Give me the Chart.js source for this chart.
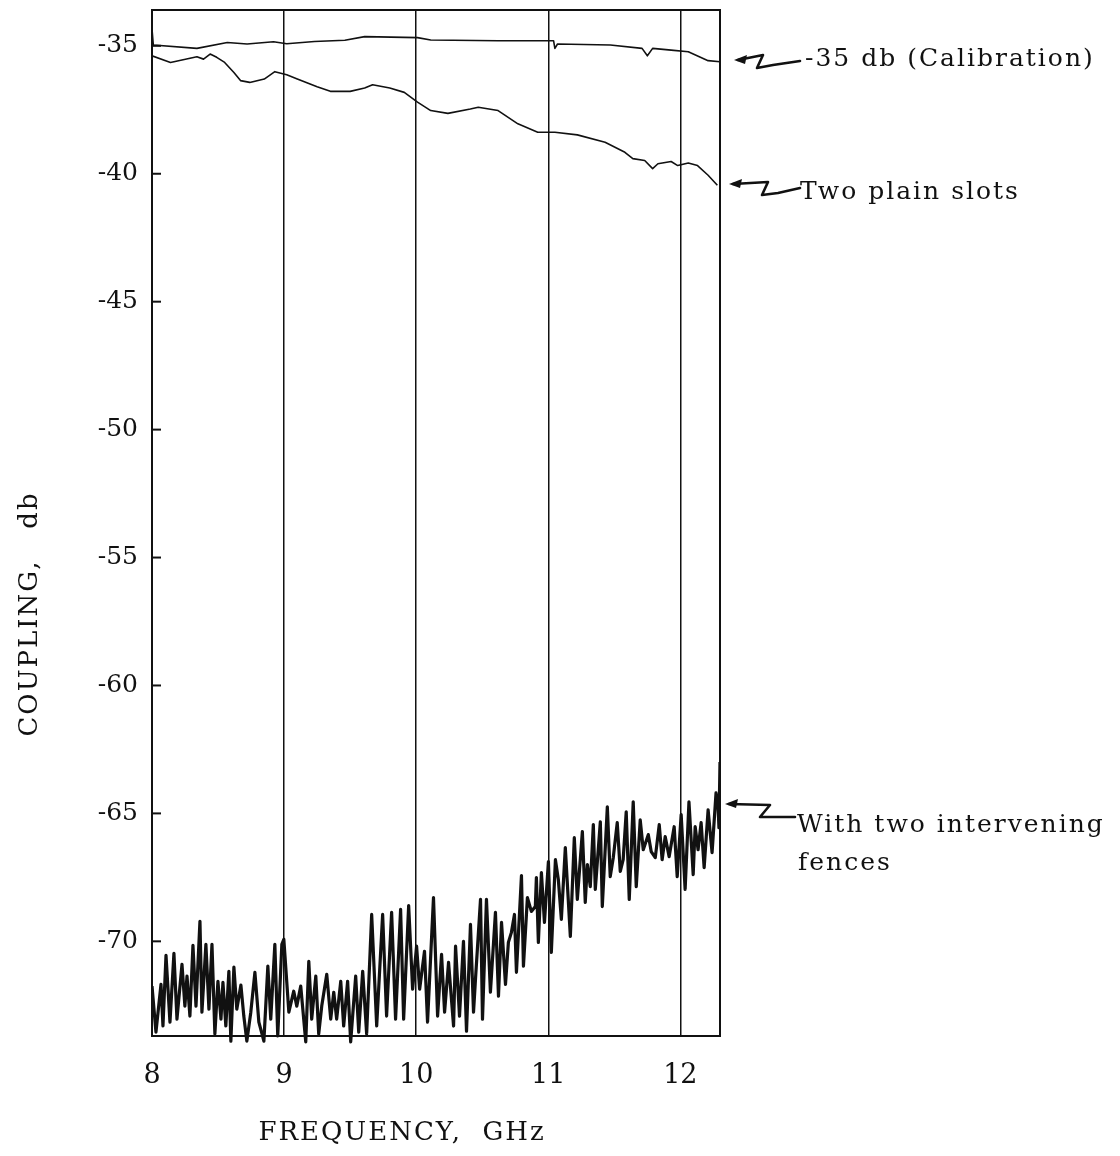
<!DOCTYPE html>
<html>
<head>
<meta charset="utf-8">
<script src="https://cdn.jsdelivr.net/npm/chart.js@4.4.0/dist/chart.umd.min.js"></script>
<style>
  html, body { margin: 0; padding: 0; background: #fff; }
  #wrap { position: relative; width: 1120px; height: 1156px; }
</style>
</head>
<body>
<div id="wrap"><canvas id="chart"></canvas></div>
<script>
// tick labels
const X_TICKS = [8, 9, 10, 11, 12];
const Y_TICKS = [-35, -40, -45, -50, -55, -60, -65, -70];

// -35 db calibration trace
const CAL_GHZ = [8.0, 8.01, 8.34, 8.57, 8.72, 8.92, 9.02, 9.23, 9.46, 9.61, 10.01, 10.11, 10.62,
  11.04, 11.05, 11.07, 11.47, 11.71, 11.75, 11.79, 11.93, 12.06, 12.21, 12.3];
const CAL_DB = [-34.35, -34.97, -35.10, -34.87, -34.93, -34.84, -34.92, -34.83, -34.78, -34.64, -34.68, -34.77, -34.80,
  -34.80, -35.10, -34.93, -34.97, -35.10, -35.39, -35.10, -35.17, -35.23, -35.58, -35.62];

// two plain slots
const SLOT_GHZ = [8.0, 8.14, 8.34, 8.39, 8.44, 8.49, 8.55, 8.62, 8.67, 8.74, 8.85, 8.93, 9.02, 9.10,
  9.25, 9.35, 9.50, 9.61, 9.67, 9.80, 9.91, 10.01, 10.11, 10.24, 10.41, 10.47, 10.62, 10.77, 10.92,
  11.05, 11.22, 11.43, 11.58, 11.64, 11.73, 11.79, 11.83, 11.93, 11.98, 12.06, 12.13, 12.21, 12.28];
const SLOT_DB = [-35.39, -35.65, -35.43, -35.52, -35.32, -35.45, -35.65, -36.04, -36.36, -36.43, -36.30, -36.01, -36.13, -36.30,
  -36.60, -36.78, -36.78, -36.65, -36.52, -36.65, -36.82, -37.20, -37.53, -37.64, -37.47, -37.40, -37.53, -38.05, -38.38,
  -38.38, -38.48, -38.77, -39.16, -39.41, -39.48, -39.80, -39.61, -39.52, -39.68, -39.58, -39.68, -40.06, -40.45];

// with two intervening fences (peaks and troughs)
const FENCE_GHZ = [
  8.000, 8.030, 8.068, 8.083, 8.106, 8.136, 8.166, 8.189, 8.227, 8.249, 8.265, 8.287, 8.310, 8.333,
  8.363, 8.378, 8.408, 8.431, 8.454, 8.476, 8.499, 8.522, 8.537, 8.559, 8.582, 8.597, 8.620, 8.642,
  8.673, 8.695, 8.718, 8.748, 8.779, 8.809, 8.847, 8.877, 8.899, 8.930, 8.952, 8.983, 8.998, 9.036,
  9.073, 9.096, 9.126, 9.164, 9.187, 9.209, 9.240, 9.262, 9.285, 9.323, 9.353, 9.376, 9.398, 9.429,
  9.451, 9.481, 9.504, 9.542, 9.565, 9.595, 9.625, 9.663, 9.701, 9.746, 9.776, 9.814, 9.844, 9.882,
  9.905, 9.943, 9.973, 10.003, 10.026, 10.063, 10.086, 10.131, 10.162, 10.192, 10.215, 10.245, 10.283,
  10.298, 10.328, 10.358, 10.381, 10.411, 10.434, 10.449, 10.487, 10.502, 10.532, 10.562, 10.600,
  10.623, 10.646, 10.676, 10.698, 10.721, 10.744, 10.759, 10.797, 10.812, 10.842, 10.872, 10.902,
  10.910, 10.925, 10.948, 10.971, 11.001, 11.023, 11.054, 11.076, 11.099, 11.129, 11.167, 11.197,
  11.220, 11.258, 11.280, 11.296, 11.318, 11.341, 11.356, 11.394, 11.409, 11.447, 11.469, 11.492,
  11.522, 11.545, 11.567, 11.590, 11.613, 11.643, 11.666, 11.696, 11.719, 11.757, 11.779, 11.810,
  11.840, 11.862, 11.885, 11.915, 11.953, 11.976, 12.006, 12.036, 12.065, 12.097, 12.112, 12.134,
  12.157, 12.180, 12.210, 12.240, 12.270, 12.285, 12.292, 12.300];
const FENCE_DB = [
  -71.75, -73.55, -71.68, -73.31, -70.55, -73.16, -70.47, -73.04, -70.90, -72.53, -71.36, -72.92, -70.16, -72.53,
  -69.22, -72.77, -70.12, -72.65, -70.12, -73.62, -71.56, -73.04, -71.60, -73.31, -71.17, -73.90, -71.01, -72.65,
  -71.71, -72.92, -73.90, -72.77, -71.21, -73.16, -73.90, -70.97, -73.04, -70.12, -73.70, -70.12, -69.92, -72.77,
  -71.95, -72.53, -71.75, -73.93, -70.78, -73.04, -71.36, -73.62, -72.53, -71.29, -73.04, -71.99, -73.04, -71.56,
  -73.31, -71.56, -73.93, -71.36, -73.55, -71.17, -73.62, -68.95, -73.31, -68.95, -72.92, -68.87, -73.04, -68.75,
  -73.04, -68.60, -71.87, -70.19, -71.87, -70.39, -73.16, -68.29, -72.92, -70.51, -72.77, -70.82, -73.31,
  -70.19, -72.92, -70.00, -73.51, -69.34, -72.77, -71.48, -68.36, -73.04, -68.36, -71.99, -68.87,
  -72.14, -69.26, -71.68, -70.04, -69.65, -68.95, -71.21, -67.43, -70.97, -68.29, -68.83, -68.64,
  -67.51, -70.04, -67.31, -69.26, -66.88, -70.43, -66.81, -67.58, -69.14, -66.34, -69.81, -65.95,
  -68.36, -65.71, -68.48, -67.00, -67.86, -65.44, -67.97, -65.33, -68.64, -64.74, -67.47, -66.73,
  -65.36, -67.27, -66.81, -64.94, -68.36, -64.55, -67.86, -65.25, -66.42, -65.83, -66.49, -66.73,
  -65.44, -66.81, -65.91, -66.69, -65.52, -67.47, -65.05, -67.97, -64.55, -67.39, -65.52, -66.42,
  -65.36, -67.12, -64.86, -66.53, -64.20, -64.66, -65.56, -62.99];

const FONT = "'DejaVu Serif', serif";
const INK = '#111';

const pts = (xs, ys) => xs.map((x, i) => ({ x, y: ys[i] }));

// frame, inner tick marks, titles and the hand-drawn callouts
const decor = {
  id: 'decor',
  afterDraw(chart) {
    const { ctx, chartArea: a } = chart;
    const y = chart.scales.y;
    ctx.save();
    ctx.strokeStyle = INK;
    ctx.fillStyle = INK;
    ctx.lineWidth = 2;
    ctx.strokeRect(a.left, a.top, a.right - a.left, a.bottom - a.top);

    Y_TICKS.forEach((v) => {
      const py = y.getPixelForValue(v);
      ctx.beginPath();
      ctx.moveTo(a.left, py);
      ctx.lineTo(a.left + 9, py);
      ctx.stroke();
    });

    ctx.letterSpacing = '2px';
    ctx.font = '26px ' + FONT;
    ctx.textBaseline = 'alphabetic';
    ctx.textAlign = 'center';
    ctx.fillText('FREQUENCY,  GHz', 402, 1140);
    ctx.save();
    ctx.translate(37, 614);
    ctx.rotate(-Math.PI / 2);
    ctx.fillText('COUPLING,   db', 0, 0);
    ctx.restore();

    ctx.font = '25px ' + FONT;
    ctx.textAlign = 'left';
    ctx.fillText('-35 db (Calibration)', 805, 66);
    ctx.fillText('Two plain slots', 800, 199);
    ctx.fillText('With two intervening', 797, 832);
    ctx.fillText('fences', 798, 870);

    const arrow = (path) => {
      const [tx, ty] = path[0];
      ctx.beginPath();
      ctx.moveTo(tx, ty);
      ctx.lineTo(tx + 13, ty - 5);
      ctx.lineTo(tx + 11, ty + 4);
      ctx.closePath();
      ctx.fill();
      ctx.lineWidth = 2.6;
      ctx.lineCap = 'round';
      ctx.lineJoin = 'round';
      ctx.beginPath();
      ctx.moveTo(tx + 4, ty);
      path.slice(1).forEach(([px, py]) => ctx.lineTo(px, py));
      ctx.stroke();
    };
    arrow([[734, 60], [763, 55], [757, 68], [773, 65], [800, 61]]);
    arrow([[729, 184], [768, 182], [762, 195], [778, 193], [800, 188]]);
    arrow([[725, 804], [770, 805], [760, 817], [778, 817], [795, 817]]);
    ctx.restore();
  }
};

new Chart(document.getElementById('chart'), {
  type: 'line',
  data: {
    datasets: [
      { label: '-35 db (Calibration)', data: pts(CAL_GHZ, CAL_DB), borderColor: INK, borderWidth: 1.6 },
      { label: 'Two plain slots', data: pts(SLOT_GHZ, SLOT_DB), borderColor: INK, borderWidth: 1.6 },
      { label: 'With two intervening fences', data: pts(FENCE_GHZ, FENCE_DB), borderColor: INK, borderWidth: 3.2,
        clip: { left: 0, top: 0, right: 0, bottom: 12 } },
    ],
  },
  options: {
    responsive: true,
    maintainAspectRatio: false,
    animation: false,
    elements: { point: { radius: 0 }, line: { tension: 0, borderJoinStyle: 'round' } },
    plugins: { legend: { display: false }, tooltip: { enabled: false } },
    layout: { padding: { top: 10, right: 400, left: 0, bottom: 0 } },
    scales: {
      x: {
        type: 'linear', min: 8, max: 12.3,
        afterBuildTicks: (s) => { s.ticks = X_TICKS.map((v) => ({ value: v })); },
        afterFit: (s) => { s.height = 120; s.paddingLeft = 0; s.paddingRight = 0; },
        grid: { color: INK, lineWidth: 1.5, drawTicks: false },
        border: { display: false },
        ticks: { color: INK, font: { family: FONT, size: 27 }, padding: 24, maxRotation: 0 },
      },
      y: {
        type: 'linear', min: -73.7, max: -33.6,
        afterBuildTicks: (s) => { s.ticks = Y_TICKS.map((v) => ({ value: v })); },
        afterFit: (s) => { s.width = 152; s.paddingTop = 0; s.paddingBottom = 0; },
        grid: { display: false, drawTicks: false },
        border: { display: false },
        ticks: { color: INK, font: { family: FONT, size: 25 }, padding: 14 },
      },
    },
  },
  plugins: [decor],
});
</script>
</body>
</html>
